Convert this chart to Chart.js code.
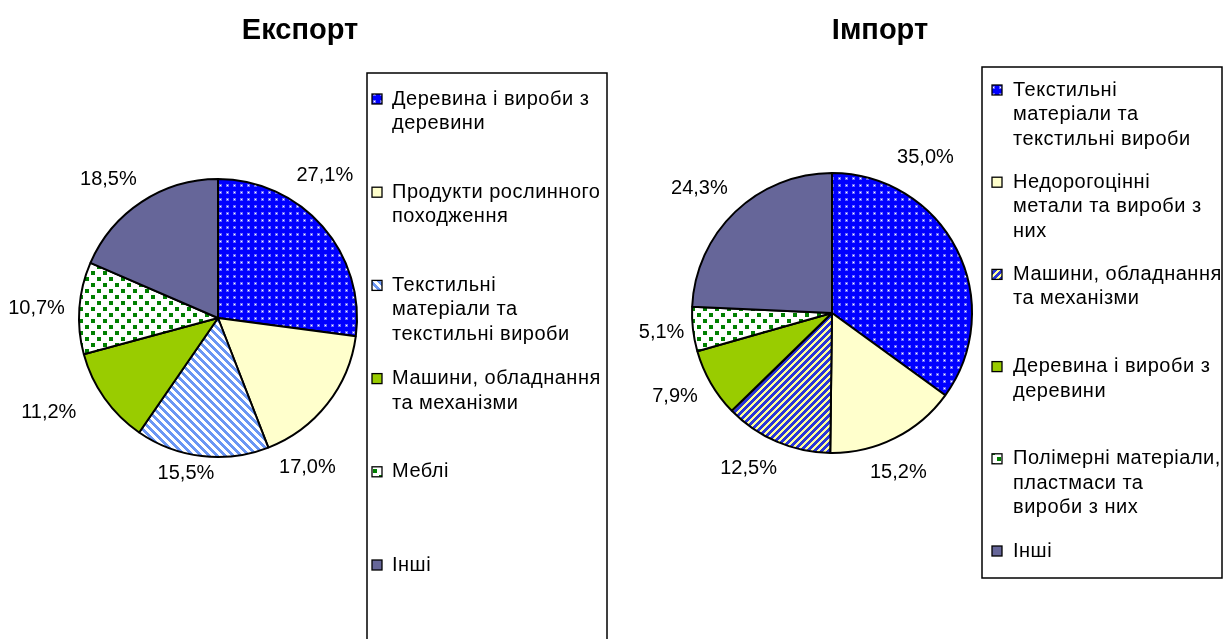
<!DOCTYPE html>
<html>
<head>
<meta charset="utf-8">
<script src="https://cdn.jsdelivr.net/npm/chart.js@4.4.1/dist/chart.umd.min.js"></script>
<style>
  html, body { margin: 0; padding: 0; background: #fff; }
  #wrap { position: relative; width: 1225px; height: 639px; overflow: hidden; }
  canvas { position: absolute; top: 0; }
  #exportChart { left: 0; }
  #importChart { left: 612px; }
</style>
</head>
<body>
<div id="wrap">
  <canvas id="exportChart" width="612" height="639"></canvas>
  <canvas id="importChart" width="613" height="639"></canvas>
</div>
<script>
// Експорт
const exportTitle = "Експорт";
const exportCategories = [
  ["Деревина і вироби з", "деревини"],
  ["Продукти рослинного", "походження"],
  ["Текстильні", "матеріали та", "текстильні вироби"],
  ["Машини, обладнання", "та механізми"],
  ["Меблі"],
  ["Інші"]
];
const exportValues = [27.1, 17.0, 15.5, 11.2, 10.7, 18.5];

// Імпорт
const importTitle = "Імпорт";
const importCategories = [
  ["Текстильні", "матеріали та", "текстильні вироби"],
  ["Недорогоцінні", "метали та вироби з", "них"],
  ["Машини, обладнання", "та механізми"],
  ["Деревина і вироби з", "деревини"],
  ["Полімерні матеріали,", "пластмаси та", "вироби з них"],
  ["Інші"]
];
const importValues = [35.0, 15.2, 12.5, 7.9, 5.1, 24.3];

const FONT = '"Liberation Sans", Arial, sans-serif';

// fill patterns
function tile(size, draw) {
  const c = document.createElement('canvas');
  c.width = size; c.height = size;
  const g = c.getContext('2d');
  draw(g, size);
  return g.createPattern(c, 'repeat');
}

function dots() {
  return tile(7, (g, s) => {
    g.fillStyle = '#0000ff';
    g.fillRect(0, 0, s, s);
    g.fillStyle = 'rgba(255,255,255,0.4)';
    g.fillRect(2, 2, 3, 3);
    g.fillStyle = '#ffffff';
    g.fillRect(3, 3, 1, 1);
  });
}

function stripes(period, c1, c2, dir) {
  return tile(period, (g, s) => {
    for (let i = 0; i < s; i++) {
      for (let j = 0; j < s; j++) {
        const t = dir === 'back' ? ((i - j) % s + s) % s : (i + j) % s;
        g.fillStyle = t < s / 2 ? c1 : c2;
        g.fillRect(i, j, 1, 1);
      }
    }
  });
}

function checker() {
  return tile(12, (g, s) => {
    g.fillStyle = '#ffffff';
    g.fillRect(0, 0, s, s);
    g.fillStyle = '#008000';
    g.fillRect(1, 1, 4, 4);
    g.fillRect(7, 7, 4, 4);
  });
}

const exportFills = [
  dots(), '#ffffcc', stripes(8, '#6a96f4', '#ffffff', 'back'),
  '#99cc00', checker(), '#666699'
];
const importFills = [
  dots(), '#ffffcc', stripes(7, '#2a35d8', '#ffff99', 'fwd'),
  '#99cc00', checker(), '#666699'
];

// label placement tweaks to follow the original: angle (deg) and radial push (px)
const exportNudge = [-12, 21, 5, 6, -1, -5];
const exportPush = [2, 0, -8, 13, 0, 0];
const importNudge = [-32, 4, 5, 2, 0, -3];
const importPush = [6, 0, 2, 0, -6, 2];

const decor = {
  id: 'decor',
  afterDatasetsDraw(chart, args, opts) {
    const ctx = chart.ctx;
    ctx.save();
    // title
    ctx.fillStyle = '#000';
    ctx.font = 'bold 29px ' + FONT;
    ctx.textAlign = 'center';
    ctx.textBaseline = 'middle';
    ctx.fillText(opts.title, opts.titleX, 31);

    // percentage labels
    ctx.font = '20px ' + FONT;
    const meta = chart.getDatasetMeta(0);
    const vals = chart.data.datasets[0].data;
    meta.data.forEach((arc, i) => {
      const p = arc.getProps(['x', 'y', 'startAngle', 'endAngle', 'outerRadius'], true);
      const a = (p.startAngle + p.endAngle) / 2 + opts.nudge[i] * Math.PI / 180;
      const txt = vals[i].toFixed(1).replace('.', ',') + '%';
      const w = ctx.measureText(txt).width;
      const d = p.outerRadius + 14 + opts.push[i] + 0.5 * w * Math.abs(Math.cos(a)) + 8 * Math.abs(Math.sin(a));
      ctx.fillText(txt, p.x + d * Math.cos(a), p.y + d * Math.sin(a));
    });

    // legend box
    const b = opts.box;
    ctx.lineWidth = 1.5;
    ctx.strokeStyle = '#000';
    ctx.strokeRect(b.x, b.y, b.w, b.h);
    ctx.textAlign = 'left';
    ctx.letterSpacing = '0.5px';
    chart.data.labels.forEach((lines, i) => {
      const y0 = opts.itemY + i * opts.itemStep;
      ctx.fillStyle = chart.data.datasets[0].backgroundColor[i];
      ctx.fillRect(opts.swatchX, y0 - 5, 10, 10);
      ctx.lineWidth = 1.3;
      ctx.strokeRect(opts.swatchX, y0 - 5, 10, 10);
      ctx.fillStyle = '#000';
      lines.forEach((ln, k) => ctx.fillText(ln, opts.textX, y0 + k * 24.5));
    });
    ctx.restore();
  }
};

function makePie(id, labels, values, fills, pad, deco) {
  return new Chart(document.getElementById(id), {
    type: 'pie',
    data: {
      labels: labels,
      datasets: [{
        data: values,
        backgroundColor: fills,
        borderColor: '#000',
        borderWidth: 2,
        borderAlign: 'center'
      }]
    },
    options: {
      responsive: false,
      animation: false,
      events: [],
      layout: { padding: pad },
      plugins: {
        legend: { display: false },
        tooltip: { enabled: false },
        decor: deco
      }
    },
    plugins: [decor]
  });
}

makePie('exportChart', exportCategories, exportValues, exportFills,
  { left: 78, right: 254, top: 178, bottom: 181 },
  { title: exportTitle, titleX: 300, nudge: exportNudge, push: exportPush,
    box: { x: 367, y: 73, w: 240, h: 600 },
    swatchX: 372, textX: 392, itemY: 99, itemStep: 93.2 });

makePie('importChart', importCategories, importValues, importFills,
  { left: 79, right: 252, top: 172, bottom: 185 },
  { title: importTitle, titleX: 268, nudge: importNudge, push: importPush,
    box: { x: 370, y: 67, w: 240, h: 511 },
    swatchX: 380, textX: 401, itemY: 90, itemStep: 92.2 });
</script>
</body>
</html>
